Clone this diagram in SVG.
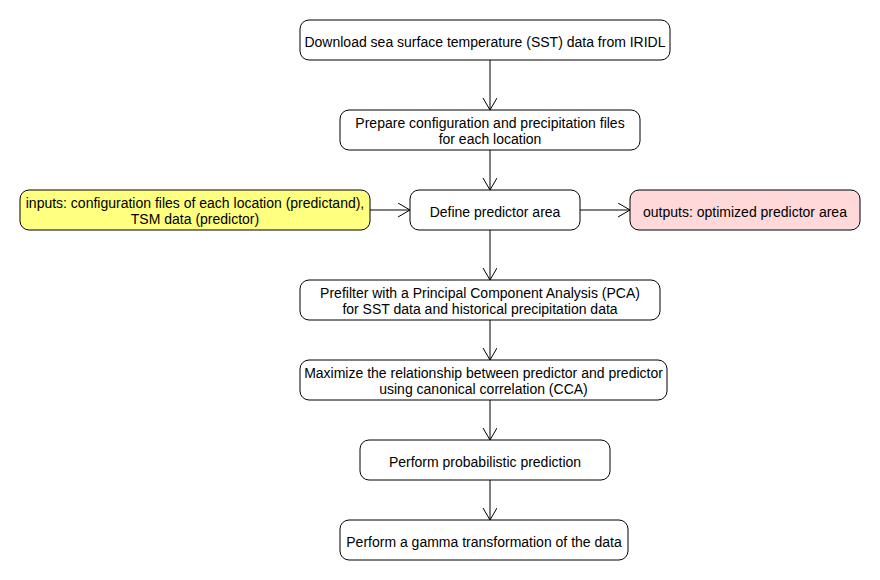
<svg xmlns="http://www.w3.org/2000/svg" width="880" height="580" viewBox="0 0 880 580">
<defs>
<style>
.box rect{fill:#fff;stroke:#000;stroke-width:1}
.box text{font-family:"Liberation Sans",Arial,sans-serif;font-size:14px;fill:#000;text-anchor:middle}
.conn line,.conn path{stroke:#000;stroke-width:1;fill:none}
</style>
<marker id="arr" markerWidth="16" markerHeight="16" refX="12" refY="7" orient="auto" markerUnits="userSpaceOnUse">
<path d="M0,0 L12,7 L0,14" fill="none" stroke="#000" stroke-width="1"/>
</marker>
</defs>
<rect width="880" height="580" fill="#fff"/>
<g class="conn">
<line x1="490" y1="60" x2="490" y2="110" marker-end="url(#arr)"/>
<line x1="490" y1="150" x2="490" y2="190" marker-end="url(#arr)"/>
<line x1="370" y1="210" x2="410" y2="210" marker-end="url(#arr)"/>
<line x1="580" y1="210" x2="630" y2="210" marker-end="url(#arr)"/>
<line x1="490" y1="230" x2="490" y2="280" marker-end="url(#arr)"/>
<line x1="490" y1="320" x2="490" y2="360" marker-end="url(#arr)"/>
<line x1="490" y1="400" x2="490" y2="440" marker-end="url(#arr)"/>
<line x1="490" y1="480" x2="490" y2="520" marker-end="url(#arr)"/>
</g>
<g id="n1" class="box"><rect x="300" y="20" width="370" height="40" rx="9"/><text x="485" y="46.5">Download sea surface temperature (SST) data from IRIDL</text></g>
<g id="n2" class="box"><rect x="340" y="110" width="300" height="40" rx="9"/><text x="490" y="127.5">Prepare configuration and precipitation files</text><text x="490" y="143.5">for each location</text></g>
<g id="n3" class="box"><rect x="410" y="190" width="170" height="40" rx="9"/><text x="495" y="216.5">Define predictor area</text></g>
<g id="n4" class="box"><rect x="20" y="190" width="350" height="40" rx="9" style="fill:#ffff80"/><text x="195" y="207.5">inputs: configuration files of each location (predictand),</text><text x="195" y="223.5">TSM data (predictor)</text></g>
<g id="n5" class="box"><rect x="630" y="190" width="230" height="40" rx="9" style="fill:#ffd9d9"/><text x="745" y="216.5">outputs: optimized predictor area</text></g>
<g id="n6" class="box"><rect x="300" y="280" width="360" height="40" rx="9"/><text x="480" y="297.5">Prefilter with a Principal Component Analysis (PCA)</text><text x="480" y="313.5">for SST data and historical precipitation data</text></g>
<g id="n7" class="box"><rect x="300" y="360" width="367" height="40" rx="9"/><text x="483.5" y="377.5">Maximize the relationship between predictor and predictor</text><text x="483.5" y="393.5">using canonical correlation (CCA)</text></g>
<g id="n8" class="box"><rect x="360" y="440" width="250" height="40" rx="9"/><text x="485" y="466.5">Perform probabilistic prediction</text></g>
<g id="n9" class="box"><rect x="340" y="520" width="288" height="40" rx="9"/><text x="484" y="546.5">Perform a gamma transformation of the data</text></g>
</svg>
